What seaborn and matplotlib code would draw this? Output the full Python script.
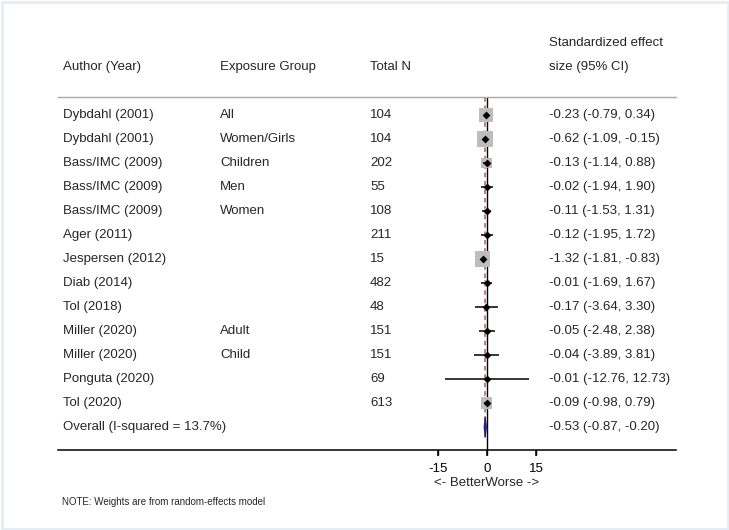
import numpy as np
import pandas as pd
import matplotlib
matplotlib.use("Agg")
import matplotlib.pyplot as plt
import matplotlib.transforms as mtransforms
from matplotlib.patches import Rectangle
import seaborn as sns

# ---- data ----
authors = ["Dybdahl (2001)", "Dybdahl (2001)", "Bass/IMC (2009)", "Bass/IMC (2009)",
           "Bass/IMC (2009)", "Ager (2011)", "Jespersen (2012)", "Diab (2014)",
           "Tol (2018)", "Miller (2020)", "Miller (2020)", "Ponguta (2020)", "Tol (2020)"]
groups = ["All", "Women/Girls", "Children", "Men", "Women", "", "", "", "",
          "Adult", "Child", "", ""]
total_n = [104, 104, 202, 55, 108, 211, 15, 482, 48, 151, 151, 69, 613]
es = [-0.23, -0.62, -0.13, -0.02, -0.11, -0.12, -1.32, -0.01, -0.17, -0.05, -0.04, -0.01, -0.09]
ci_lo = [-0.79, -1.09, -1.14, -1.94, -1.53, -1.95, -1.81, -1.69, -3.64, -2.48, -3.89, -12.76, -0.98]
ci_hi = [0.34, -0.15, 0.88, 1.90, 1.31, 1.72, -0.83, 1.67, 3.30, 2.38, 3.81, 12.73, 0.79]
weights = [17.5, 22.5, 10.5, 1.0, 2.5, 1.0, 22.0, 3.5, 0.9, 1.6, 0.9, 0.1, 12.0]
overall_label = "Overall (I-squared = 13.7%)"
overall_es, overall_lo, overall_hi = -0.53, -0.87, -0.20
xticks = [-15, 0, 15]
xlabel = "<- BetterWorse ->"
note = "NOTE: Weights are from random-effects model"

# ---- style ----
sns.set_style("white", {"xtick.bottom": True, "xtick.direction": "out"})
plt.rcParams["font.family"] = ["Liberation Sans", "DejaVu Sans"]
plt.rcParams["xtick.major.size"] = 3.6
plt.rcParams["xtick.major.width"] = 1.0
plt.rcParams["xtick.color"] = "black"
FS = 9.5

W, H = 729, 530
fig = plt.figure(figsize=(W / 100, H / 100), dpi=100)
fig.patch.set_facecolor("white")

x0px, x1px, zero_px, ppu = 58, 676, 487, 3.28
ytop_px, ybot_px = 97, 450
row0_px, row_step = 115, 24.0

ax = fig.add_axes([x0px / W, 1 - ybot_px / H, (x1px - x0px) / W, (ybot_px - ytop_px) / H])
ax.set_facecolor("white")

df = pd.DataFrame({"es": es, "lo": ci_lo, "hi": ci_hi, "w": weights,
                   "row": np.arange(len(es))})
n = len(df)
overall_row = n

# weight boxes (area proportional to weight)
k = 5.6
wmin, wmax = min(weights), max(weights)
sns.scatterplot(data=df, x="es", y="row", size="w", sizes=(k * wmin, k * wmax),
                size_norm=(wmin, wmax), marker="s", color="#bdbdbd", linewidth=0,
                legend=False, ax=ax, zorder=2)

# CIs
ax.hlines(df["row"], df["lo"], df["hi"], color="black", lw=1.1, zorder=3)
# point estimates
sns.scatterplot(data=df, x="es", y="row", marker="D", color="black", s=16,
                linewidth=0, legend=False, ax=ax, zorder=4)

# null line and overall line
ax.axvline(0, color="black", lw=1.0, zorder=1)
ax.vlines(overall_es, -0.75, overall_row + 0.45, color="#b5565e", lw=1.1,
          linestyles=(0, (3, 2.5)), zorder=1.5)

# overall diamond
h = 0.42
ax.fill([overall_lo, overall_es, overall_hi, overall_es],
        [overall_row, overall_row - h, overall_row, overall_row + h],
        facecolor="#1c2180", edgecolor="#1c2180", zorder=5, lw=0.8)

xmin = (x0px - zero_px) / ppu
xmax = (x1px - zero_px) / ppu
ax.set_xlim(xmin, xmax)
ax.set_ylim((ybot_px - row0_px) / row_step, (ytop_px - row0_px) / row_step)
ax.set_xticks(xticks)
ax.set_xticklabels([str(t) for t in xticks])
ax.set_yticks([])
ax.set_xlabel(xlabel, fontsize=FS)
ax.xaxis.set_label_coords((0 - xmin) / (xmax - xmin), -27.5 / (ybot_px - ytop_px))
ax.set_ylabel("")
ax.tick_params(axis="x", which="major", direction="out", length=3.6, width=1,
               labelsize=FS, pad=6, color="black", bottom=True, labelbottom=True)
# explicit tick marks below the axis line (drawn at the tick values)
tick_tr = mtransforms.blended_transform_factory(ax.transData, ax.transAxes)
ax.vlines(xticks, -5.5 / (ybot_px - ytop_px), 0, transform=tick_tr, color="black",
          lw=1.1, clip_on=False, zorder=6)
for s in ["left", "right"]:
    ax.spines[s].set_visible(False)
ax.spines["bottom"].set_color("black")
ax.spines["bottom"].set_linewidth(1.1)
ax.spines["top"].set_color("#a8a8a8")
ax.spines["top"].set_linewidth(1.0)

# table text
tr = mtransforms.blended_transform_factory(fig.transFigure, ax.transData)
cx_author, cx_group, cx_n, cx_es = 63 / W, 220 / W, 370 / W, 549 / W
for i in range(n):
    ax.text(cx_author, i, authors[i], transform=tr, va="center", ha="left", fontsize=FS)
    if groups[i]:
        ax.text(cx_group, i, groups[i], transform=tr, va="center", ha="left", fontsize=FS)
    ax.text(cx_n, i, str(total_n[i]), transform=tr, va="center", ha="left", fontsize=FS)
    ax.text(cx_es, i, f"{es[i]:.2f} ({ci_lo[i]:.2f}, {ci_hi[i]:.2f})", transform=tr,
            va="center", ha="left", fontsize=FS)
ax.text(cx_author, overall_row, overall_label, transform=tr, va="center", ha="left", fontsize=FS)
ax.text(cx_es, overall_row, f"{overall_es:.2f} ({overall_lo:.2f}, {overall_hi:.2f})",
        transform=tr, va="center", ha="left", fontsize=FS)

# headers
hy = 1 - 67 / H
fig.text(cx_author, hy, "Author (Year)", va="center", ha="left", fontsize=FS)
fig.text(cx_group, hy, "Exposure Group", va="center", ha="left", fontsize=FS)
fig.text(cx_n, hy, "Total N", va="center", ha="left", fontsize=FS)
fig.text(cx_es, 1 - 43 / H, "Standardized effect", va="center", ha="left", fontsize=FS)
fig.text(cx_es, hy, "size (95% CI)", va="center", ha="left", fontsize=FS)

fig.text(62 / W, 1 - 502 / H, note, va="center", ha="left", fontsize=7.0)

# light outer frame
fig.patches.append(Rectangle((1.5 / W, 1.5 / H), 1 - 3 / W, 1 - 3 / H,
                             transform=fig.transFigure, fill=False,
                             edgecolor="#e4edf6", lw=2.0))

fig.savefig("out.png", dpi=100)
